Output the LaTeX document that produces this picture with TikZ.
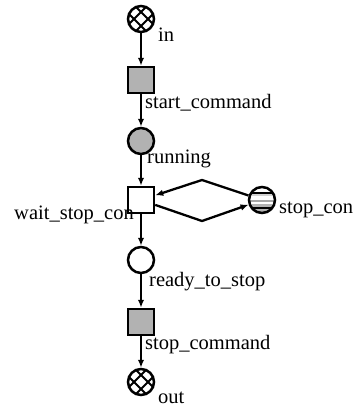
\documentclass[tikz,border=0pt]{standalone}
\usepackage{fontspec}
\setmainfont{Liberation Serif}
\usetikzlibrary{arrows.meta}

\begin{document}
\begin{tikzpicture}[x=1pt,y=-1pt,
    every node/.style={font=\fontsize{20.5}{24}\selectfont},
    place/.style={circle,draw,line width=2.5pt,minimum size=26pt,inner sep=0pt,fill=white},
    trans/.style={rectangle,draw,line width=2.5pt,minimum size=26pt,inner sep=0pt},
    active/.style={fill=gray!60},
    crossed/.style={path picture={
        \begin{scope}[shift={(path picture bounding box.center)},line width=2pt]
          \draw (-16pt,-23pt) -- (16pt,9pt);
          \draw (-16pt,-9pt) -- (16pt,23pt);
          \draw (16pt,-23pt) -- (-16pt,9pt);
          \draw (16pt,-9pt) -- (-16pt,23pt);
        \end{scope}}},
    striped/.style={path picture={
        \begin{scope}[shift={(path picture bounding box.center)}]
          \fill[black]   (-16pt,8.3pt)  rectangle (16pt,6pt);
          \fill[gray!35] (-16pt,6pt)    rectangle (16pt,4pt);
          \fill[gray!70] (-16pt,0pt)    rectangle (16pt,-1.7pt);
          \fill[gray!60] (-16pt,-4.3pt) rectangle (16pt,-7pt);
          \fill[black]   (-16pt,-7pt)   rectangle (16pt,-9.3pt);
          \fill[gray!60] (-16pt,-9.3pt) rectangle (16pt,-16pt);
        \end{scope}}},
    arr/.style={line width=2.3pt,-{Latex[length=8pt,width=6.5pt]}},
    lbl/.style={inner sep=0pt,anchor=base west}]

  \useasboundingbox (0,0) rectangle (358,408);

  % places and transitions of the net
  \node[place,crossed]    (in)      at (141,19)  {};
  \node[trans,active]     (start)   at (141,80)  {};
  \node[place,active]     (running) at (141,141) {};
  \node[trans,fill=white] (wait)    at (141,200) {};
  \node[place,striped]    (stopcon) at (262,200) {};
  \node[place]            (ready)   at (141,260) {};
  \node[trans,active]     (stopcmd) at (141,322) {};
  \node[place,crossed]    (out)     at (141,382) {};

  % labels
  \node[lbl] (l-in)      at (158,41)  {in};
  \node[lbl] (l-start)   at (145,108) {start\_command};
  \node[lbl] (l-running) at (147,163) {running};
  \node[lbl,anchor=base east] (l-wait) at (134,219) {wait\_stop\_con};
  \node[lbl] (l-stopcon) at (279,213) {stop\_con};
  \node[lbl] (l-ready)   at (149,286) {ready\_to\_stop};
  \node[lbl] (l-stopcmd) at (145,349) {stop\_command};
  \node[lbl] (l-out)     at (158,403) {out};

  % main flow
  \draw[arr] (in) -- (start);
  \draw[arr] (start) -- (running);
  \draw[arr] (running) -- (wait);
  \draw[arr] (wait) -- (ready);
  \draw[arr] (ready) -- (stopcmd);
  \draw[arr] (stopcmd) -- (out);

  % read loop with stop_con
  \coordinate (up) at (202,180);
  \coordinate (dn) at (202,221);
  \draw[arr] (stopcon) -- (up) -- (wait);
  \draw[arr] (wait) -- (dn) -- (stopcon);
\end{tikzpicture}
\end{document}
